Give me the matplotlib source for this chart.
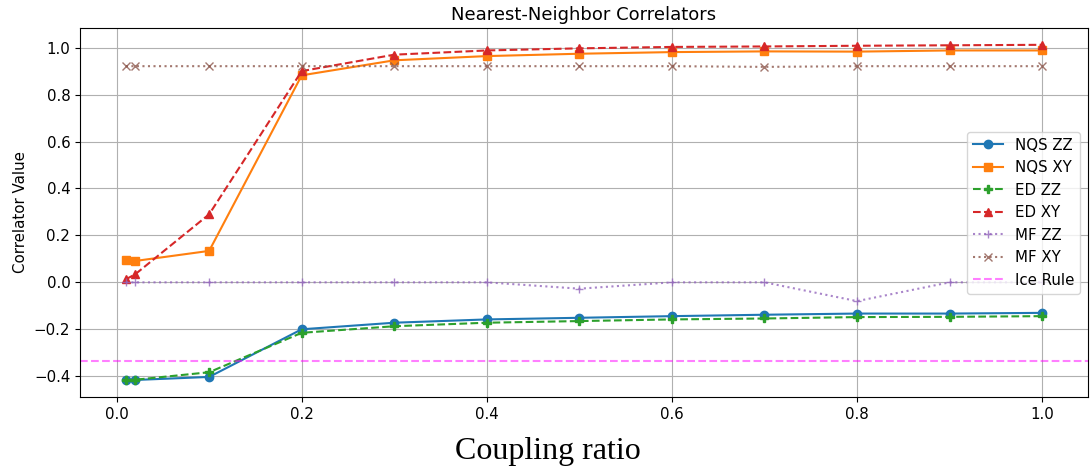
import numpy as np
import matplotlib
matplotlib.use("Agg")
import matplotlib.pyplot as plt

# coupling ratios
ratios = [0.01, 0.02, 0.1, 0.2, 0.3, 0.4, 0.5, 0.6, 0.7, 0.8, 0.9, 1.0]

nqs_zz = [-0.417, -0.416, -0.403, -0.200, -0.172, -0.158, -0.151, -0.144, -0.138, -0.133, -0.133, -0.130]
nqs_xy = [0.095, 0.091, 0.134, 0.882, 0.946, 0.964, 0.974, 0.981, 0.984, 0.983, 0.988, 0.988]
ed_zz = [-0.417, -0.415, -0.383, -0.215, -0.187, -0.172, -0.165, -0.158, -0.154, -0.148, -0.147, -0.144]
ed_xy = [0.013, 0.034, 0.290, 0.900, 0.970, 0.988, 0.997, 1.003, 1.005, 1.008, 1.010, 1.012]
mf_zz = [0.0, 0.0, 0.0, 0.0, 0.0, 0.0, -0.027, 0.0, 0.0, -0.080, 0.0, 0.0]
mf_xy = [0.921, 0.921, 0.921, 0.921, 0.921, 0.921, 0.921, 0.921, 0.918, 0.921, 0.921, 0.921]
ice_rule = -1.0 / 3.0


def main():
    plt.rcParams["font.size"] = 10.8
    fig = plt.figure(figsize=(10.92, 4.73), dpi=100)
    ax = fig.add_axes([0.0733, 0.1607, 0.923, 0.780])

    ax.plot(ratios, nqs_zz, "o-", color="tab:blue", label="NQS ZZ")
    ax.plot(ratios, nqs_xy, "s-", color="tab:orange", label="NQS XY")
    ax.plot(ratios, ed_zz, "P--", color="tab:green", label="ED ZZ")
    ax.plot(ratios, ed_xy, "^--", color="tab:red", label="ED XY")
    ax.plot(ratios, mf_zz, "+:", color="tab:purple", alpha=0.8, label="MF ZZ")
    ax.plot(ratios, mf_xy, "x:", color="tab:brown", alpha=0.8, label="MF XY")
    ax.axhline(ice_rule, color="magenta", ls="--", alpha=0.5, label="Ice Rule")

    ax.set_title("Nearest-Neighbor Correlators")
    ax.set_ylabel("Correlator Value")
    ax.grid(True)
    ax.legend(loc="center right")

    fig.text(0.502, 0.045, "Coupling ratio", ha="center", va="center",
             fontsize=23, family="Liberation Serif")

    fig.savefig("out.png", dpi=100)


if __name__ == "__main__":
    main()
